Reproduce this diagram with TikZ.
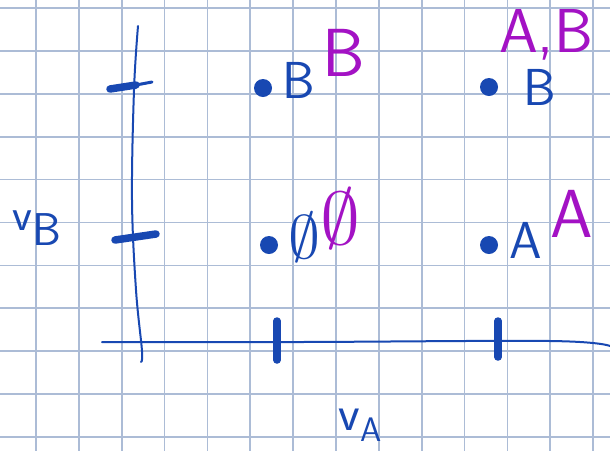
\documentclass[tikz,border=0pt]{standalone}
\usepackage{graphicx}
\usetikzlibrary{calc,positioning}

\definecolor{inkblue}{RGB}{24,72,178}
\definecolor{inkpurple}{RGB}{163,18,196}
\definecolor{gridblue}{RGB}{172,188,214}

\tikzset{
  gridline/.style={draw=gridblue, line width=1.7pt},
  axisline/.style={draw=inkblue, line width=2pt, line cap=round},
  tickmark/.style={draw=inkblue, line width=7.5pt, line cap=round},
  dotmark/.style={circle, fill=inkblue, inner sep=0pt, minimum size=18pt},
  bluelabel/.style={text=inkblue, inner sep=0pt, font=\sffamily\fontsize{52}{52}\selectfont},
  pinklabel/.style={text=inkpurple, inner sep=0pt, font=\sffamily\fontsize{68}{68}\selectfont},
}

\begin{document}
\begin{tikzpicture}[x=1pt, y=-1pt, line join=round]
\useasboundingbox (0,0) rectangle (610,451);
\fill[white] (0,0) rectangle (610,451);
% squared paper
\foreach \i in {0,...,13}
  \draw[gridline] ({36+42.85*\i},0) -- ++(0,451);
\foreach \j in {0,...,10}
  \draw[gridline] (0,{8+42.9*\j}) -- ++(610,0);
% axes
\draw[axisline] plot[smooth, tension=0.6] coordinates
  {(138,26) (134,90) (132,200) (136,290) (142,351) (141,362)};
\draw[axisline] plot[smooth, tension=0.6] coordinates
  {(102,342) (300,342) (550,341) (610,346)};
% ticks on v_B
\draw[tickmark] (110,89) -- (136,85);
\draw[axisline, line width=3pt] (136,85) -- (152,82);
\draw[tickmark] (115,240) -- (156,234);
% ticks on v_A
\draw[tickmark] (277,321) -- (277,360);
\draw[tickmark] (498,321) -- (498,357);
% axis names
\node[text=inkblue, inner sep=0pt] (vb) at (37,228)
  {\sffamily\fontsize{46}{46}\selectfont v\raisebox{-0.75ex}{\fontsize{46}{46}\selectfont B}};
\node[text=inkblue, inner sep=0pt] (va) at (360,425)
  {\sffamily\fontsize{50}{50}\selectfont v\raisebox{-0.5ex}{\fontsize{34}{34}\selectfont A}};
% outcome points
\node[dotmark] (lowhigh) at (263,88) {};
\node[dotmark] (highhigh) at (489,87) {};
\node[dotmark] (lowlow) at (269,245) {};
\node[dotmark] (highlow) at (489,245) {};
% blue winner labels
\node[bluelabel] (lhb) at (299,80) {B};
\node[bluelabel] (hhb) at (540,87) {B};
\node[bluelabel] (llb) at (304,237) {\resizebox{32pt}{46pt}{$\emptyset$}};
\node[bluelabel] (hla) at (526,240) {A};
% purple winner labels
\node[pinklabel] (lhp) at (344,53) {B};
\node[pinklabel, font=\sffamily\fontsize{62}{62}\selectfont] (hhp) at (546,35) {A,B};
\node[pinklabel] (llp) at (340,219) {\resizebox{40pt}{56pt}{$\emptyset$}};
\node[pinklabel] (hlp) at (572,214) {A};
\end{tikzpicture}
\end{document}
